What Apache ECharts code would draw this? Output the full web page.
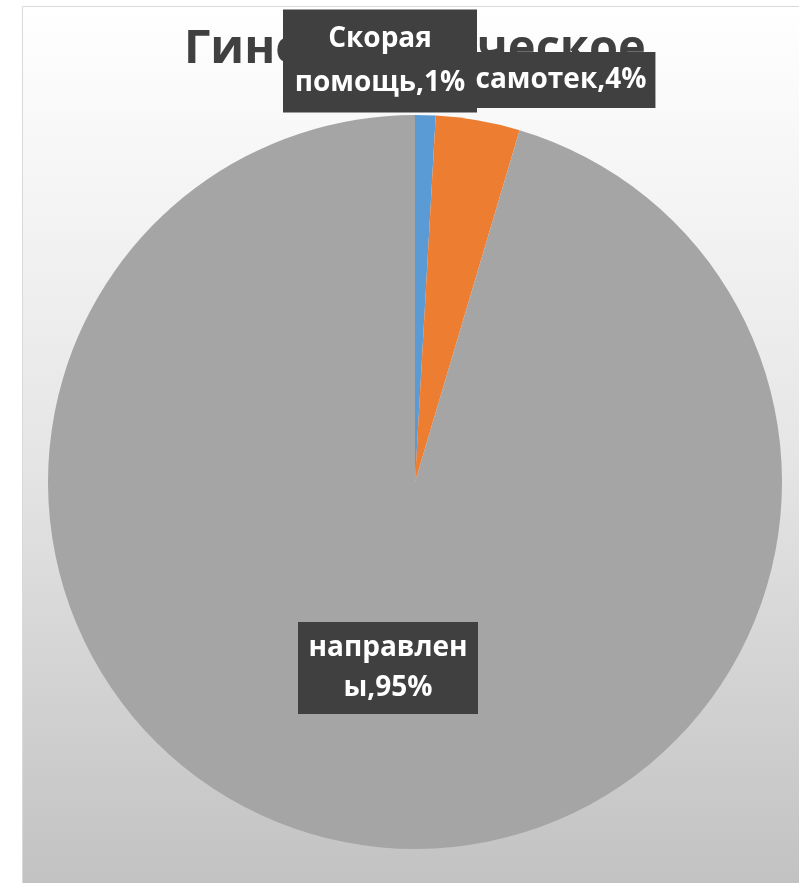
<!DOCTYPE html>
<html>
<head>
<meta charset="utf-8">
<script src="https://cdn.jsdelivr.net/npm/echarts@6/dist/echarts.min.js"></script>
<style>
html,body{margin:0;padding:0;background:#fff;}
#chart{width:799px;height:883px;}
</style>
</head>
<body>
<div id="chart"></div>
<script>
// Data
const titleText = 'Гинекологическое';
const categories = ['Скорая помощь', 'самотек', 'направлены'];
const labelNames = ['Скорая\nпомощь', 'самотек', 'направлен\nы'];
const values = [0.9, 3.7, 95.4];
const colors = ['#5b9bd5', '#ed7d31', '#a5a5a5'];

const labelPos = [
  {x: 380, y: 61},
  {x: 561, y: 80},
  {x: 388, y: 668}
];
const labelStyles = [
  {width: 180, lineHeight: 44, padding: [15, 7, 0, 7]},
  {lineHeight: 40, padding: [8, 9, 8, 9]},
  {width: 166, lineHeight: 40, padding: [6, 7, 6, 7]}
];

const chart = echarts.init(document.getElementById('chart'));
const data = categories.map((c, i) => ({
  name: c,
  value: values[i],
  itemStyle: {color: colors[i]},
  label: Object.assign({}, labelStyles[i])
}));

chart.setOption({
  animation: false,
  graphic: [{
    type: 'rect',
    z: -10,
    shape: {x: 22.5, y: 6.5, width: 777, height: 877},
    style: {
      fill: new echarts.graphic.LinearGradient(0, 0, 0, 1, [
        {offset: 0, color: '#ffffff'},
        {offset: 0.5, color: '#e6e6e6'},
        {offset: 1, color: '#c2c2c2'}
      ]),
      stroke: '#d9d9d9',
      lineWidth: 1
    }
  }],
  title: {
    text: titleText,
    left: 179,
    top: 21,
    z: 0,
    textStyle: {
      fontFamily: 'Open Sans',
      fontWeight: 'bold',
      fontSize: 47,
      color: '#404040'
    }
  },
  series: [{
    type: 'pie',
    z: 3,
    center: [415, 482],
    radius: 367,
    startAngle: 90,
    clockwise: true,
    percentPrecision: 0,
    avoidLabelOverlap: false,
    itemStyle: {borderWidth: 0},
    labelLine: {show: false},
    label: {
      show: true,
      position: 'outside',
      formatter: p => labelNames[p.dataIndex] + ',' + p.percent + '%',
      color: '#ffffff',
      fontFamily: 'Open Sans',
      fontWeight: 'bold',
      fontSize: 28,
      backgroundColor: '#404040',
      align: 'center',
      overflow: 'none'
    },
    labelLayout: p => ({
      x: labelPos[p.dataIndex].x,
      y: labelPos[p.dataIndex].y,
      align: 'center',
      verticalAlign: 'middle'
    }),
    emphasis: {disabled: true},
    data: data
  }]
});
</script>
</body>
</html>
